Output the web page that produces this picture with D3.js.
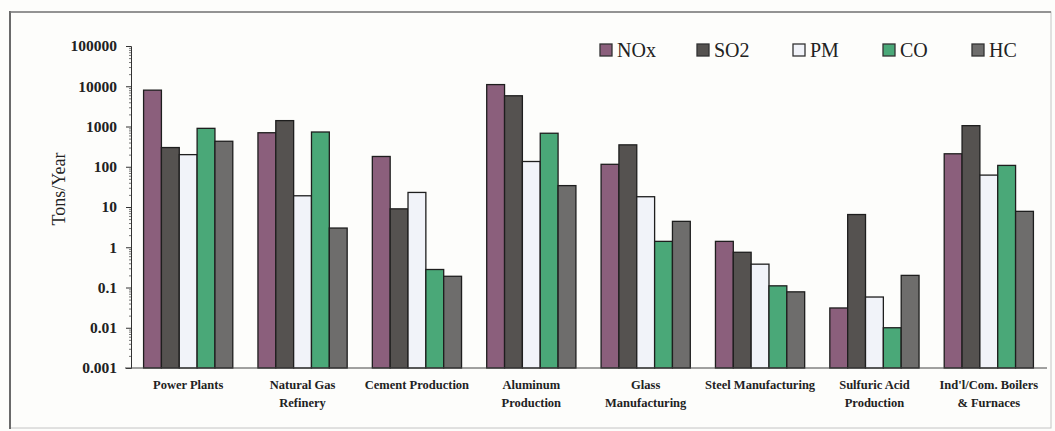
<!DOCTYPE html>
<html><head><meta charset="utf-8">
<script src="https://cdn.jsdelivr.net/npm/d3@7"></script>
<style>
html,body{margin:0;padding:0;background:#fdfdfb;}
svg{display:block;font-family:"Liberation Serif","DejaVu Serif",serif;}
</style></head>
<body><svg id="c" width="1055" height="431"></svg>
<script>
const categories = ["Power Plants","Natural Gas\nRefinery","Cement Production","Aluminum\nProduction","Glass\nManufacturing","Steel Manufacturing","Sulfuric Acid\nProduction","Ind'l/Com. Boilers\n& Furnaces"];
const seriesNames = ["NOx","SO2","PM","CO","HC"];
const NOx = [8000, 700, 180, 11000, 115, 1.4, 0.031, 210];
const SO2 = [300, 1400, 9, 5800, 350, 0.75, 6.5, 1050];
const PM  = [200, 19, 23, 135, 18, 0.38, 0.058, 62];
const CO  = [900, 730, 0.28, 680, 1.4, 0.11, 0.01, 108];
const HC  = [430, 3, 0.19, 34, 4.4, 0.078, 0.2, 7.8];
const yTicks = [0.001, 0.01, 0.1, 1, 10, 100, 1000, 10000, 100000];
const colors = ["#8b5f7c","#555250","#f1f3f9","#4aa878","#6e6d6c"];
const seriesData = [NOx, SO2, PM, CO, HC];

const svg = d3.select("#c");
// outer frame
svg.append("rect").attr("x",10).attr("y",12).attr("width",1041).attr("height",416)
  .attr("fill","none").attr("stroke","#c4c4c4").attr("stroke-width",1);
svg.append("line").attr("x1",10).attr("x2",10).attr("y1",11).attr("y2",429).attr("stroke","#6a6a6a").attr("stroke-width",2);
svg.append("line").attr("x1",10).attr("x2",1051).attr("y1",12).attr("y2",12).attr("stroke","#7a7a7a").attr("stroke-width",1.5);

const x0 = d3.scaleBand().domain(categories).range([131,1046]).paddingInner(0.22).paddingOuter(0.11);
const x1 = d3.scaleBand().domain(seriesNames).range([0,x0.bandwidth()]).padding(0);
const y = d3.scaleLog().domain([0.001,100000]).range([368,46]);

// bars
categories.forEach((c,ci)=>{
  seriesNames.forEach((s,si)=>{
    const v = seriesData[si][ci];
    svg.append("rect")
      .attr("x", x0(c)+x1(s))
      .attr("y", y(v))
      .attr("width", x1.bandwidth())
      .attr("height", y(0.001)-y(v))
      .attr("fill", colors[si])
      .attr("stroke","#1e1e1e").attr("stroke-width",1.3);
  });
});

// minor ticks
const minor = [];
for(let e=-3;e<5;e++){for(let m=2;m<10;m++){minor.push(m*Math.pow(10,e));}}
const gMinor = svg.append("g").attr("transform","translate(131,0)")
  .call(d3.axisLeft(y).tickValues(minor).tickSize(2).tickFormat(""));
gMinor.select(".domain").remove();
gMinor.selectAll("line").attr("stroke","#555").attr("stroke-width",0.8);

// y axis
const gy = svg.append("g").attr("transform","translate(131,0)")
  .call(d3.axisLeft(y).tickValues(yTicks).tickSize(5).tickPadding(9)
    .tickFormat(d=> d>=1 ? d3.format("d")(d) : String(d)));
gy.select(".domain").attr("stroke","#333").attr("stroke-width",1);
gy.selectAll(".tick line").attr("stroke","#333");
gy.selectAll("text").attr("font-family","Liberation Serif, serif").attr("font-size",15.5)
  .attr("font-weight","bold").attr("fill","#222");

// x baseline
svg.append("line").attr("x1",125).attr("x2",1047).attr("y1",y(0.001)).attr("y2",y(0.001))
  .attr("stroke","#444").attr("stroke-width",1);

// y label
svg.append("text").attr("transform","translate(65,189) rotate(-90)")
  .attr("text-anchor","middle").attr("font-size",18).attr("fill","#222").text("Tons/Year");

// x labels
categories.forEach(c=>{
  const lines = c.split("\n");
  const t = svg.append("text").attr("text-anchor","middle")
    .attr("font-size",12.5).attr("font-weight","bold").attr("fill","#222");
  lines.forEach((l,i)=>{
    t.append("tspan").attr("x", x0(c)+x0.bandwidth()/2).attr("y", 389+i*17.5).text(l);
  });
});

// legend
const legX = [600, 697, 793, 883, 972];
seriesNames.forEach((s,i)=>{
  svg.append("rect").attr("x",legX[i]).attr("y",44).attr("width",12).attr("height",12)
    .attr("fill",colors[i]).attr("stroke","#333").attr("stroke-width",1.3);
  svg.append("text").attr("x",legX[i]+17).attr("y",57).attr("font-size",20).attr("fill","#222").text(s);
});
</script></body></html>
